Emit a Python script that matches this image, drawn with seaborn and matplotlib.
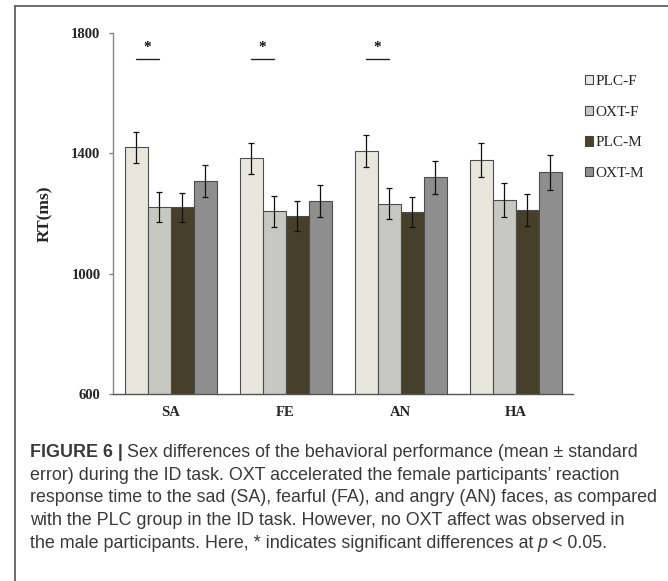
import numpy as np
import pandas as pd
import matplotlib
matplotlib.use("Agg")
import matplotlib.pyplot as plt
from matplotlib.patches import Patch
from matplotlib.lines import Line2D
import seaborn as sns

# ---- data ----
emotions = ["SA", "FE", "AN", "HA"]
groups = ["PLC-F", "OXT-F", "PLC-M", "OXT-M"]
plc_f = [1420, 1383, 1408, 1379]
oxt_f = [1222, 1207, 1233, 1244]
plc_m = [1220, 1192, 1204, 1211]
oxt_m = [1308, 1242, 1320, 1337]
plc_f_se = [52, 53, 52, 57]
oxt_f_se = [50, 52, 51, 56]
plc_m_se = [49, 50, 50, 53]
oxt_m_se = [53, 54, 55, 59]
sig_emotions = ["SA", "FE", "AN"]
sig_level = 1712
yticks = [600, 1000, 1400, 1800]

means = {"PLC-F": plc_f, "OXT-F": oxt_f, "PLC-M": plc_m, "OXT-M": oxt_m}
ses = {"PLC-F": plc_f_se, "OXT-F": oxt_f_se, "PLC-M": plc_m_se, "OXT-M": oxt_m_se}
colors = {"PLC-F": "#E9E8DC", "OXT-F": "#C9C9C1", "PLC-M": "#4A4327", "OXT-M": "#8E8E8E"}

rows = []
for g in groups:
    for e, v, s in zip(emotions, means[g], ses[g]):
        rows.append({"emotion": e, "group": g, "rt": v, "se": s})
df = pd.DataFrame(rows)

sns.set_style("white")
plt.rcParams["font.family"] = ["Liberation Serif", "DejaVu Serif"]

W, H = 668, 581
fig = plt.figure(figsize=(W / 100, H / 100), dpi=100)
ax = fig.add_axes([113 / W, 1 - 394 / H, 460 / W, 361 / H])

sns.barplot(data=df, x="emotion", y="rt", hue="group", order=emotions,
            hue_order=groups, palette=colors, errorbar=None, width=0.8,
            edgecolor="#4d4d4d", linewidth=0.8, ax=ax, legend=False)

# error bars
for gi, g in enumerate(groups):
    cont = ax.containers[gi]
    bars = sorted(cont.patches, key=lambda p: p.get_x())
    xs = [b.get_x() + b.get_width() / 2 for b in bars]
    ax.errorbar(xs, means[g], yerr=ses[g], fmt="none", ecolor="#111111",
                elinewidth=0.9, capsize=2.2, capthick=0.9, zorder=5)

# significance markers
bar_w = 0.8 / len(groups)
for e in sig_emotions:
    ci = emotions.index(e)
    x1 = ci - 0.4 + bar_w * 0.5
    x2 = ci - 0.4 + bar_w * 1.5
    ax.plot([x1, x2], [sig_level, sig_level], color="#222222", lw=1.0)
    ax.text((x1 + x2) / 2, sig_level + 18, "*", ha="center", va="bottom",
            fontsize=11, fontweight="bold", color="#111111")

ax.set_ylim(600, 1800)
ax.set_xlim(-0.5, len(emotions) - 0.5)
ax.set_yticks(yticks)
ax.set_yticklabels([str(t) for t in yticks], fontweight="bold", fontsize=10.5)
ax.set_xticks(range(len(emotions)))
ax.set_xticklabels(emotions, fontweight="bold", fontsize=10.5)
ax.set_xticks(np.arange(-0.5, len(emotions)), minor=True)
ax.tick_params(axis="x", which="major", length=0, pad=9)
ax.tick_params(axis="x", which="minor", length=3, width=0.9, color="#555555", direction="out")
ax.tick_params(axis="y", which="major", length=3, width=0.9, color="#777777",
               direction="out", pad=6, left=True)
ax.set_xlabel("")
ax.set_ylabel("RT(ms)", fontweight="bold", fontsize=12.5)
ax.yaxis.set_label_coords(-0.148, 0.5)
ax.yaxis.label.set_verticalalignment("center")
for s in ["top", "right"]:
    ax.spines[s].set_visible(False)
ax.spines["left"].set_color("#888888")
ax.spines["bottom"].set_color("#555555")
ax.spines["left"].set_linewidth(1.0)
ax.spines["bottom"].set_linewidth(1.0)

# legend
handles = [Patch(facecolor=colors[g], edgecolor="#444444", linewidth=0.8) for g in groups]
fig.legend(handles, groups, loc="upper left", bbox_to_anchor=(585 / W, 1 - 75 / H),
           frameon=False, handlelength=0.55, handleheight=0.55, handletextpad=0.12,
           labelspacing=1.16, borderpad=0, borderaxespad=0,
           prop={"family": "Liberation Serif", "size": 11})

# outer box (left + top border)
fig.add_artist(Line2D([15 / W, 15 / W], [0, 1 - 6 / H], transform=fig.transFigure,
                      color="#555555", lw=1.2))
fig.add_artist(Line2D([15 / W, 1], [1 - 6 / H, 1 - 6 / H], transform=fig.transFigure,
                      color="#555555", lw=1.2))

# caption
cap_font = ["Liberation Sans Narrow", "Liberation Sans", "DejaVu Sans"]
cap_size = 12.85
renderer = fig.canvas.get_renderer()
space_px = cap_size * 100 / 72 * 0.23

def draw_line(x_px, base_px, segs):
    x = x_px
    for txt, kw in segs:
        if txt == " ":
            x += space_px
            continue
        t = fig.text(x / W, 1 - base_px / H, txt, ha="left", va="baseline",
                     family=cap_font, fontsize=cap_size, color="#3a3a3a", **kw)
        bb = t.get_window_extent(renderer)
        x = bb.x1

caption = [
    [("FIGURE 6 |", {"fontweight": "bold"}), (" ", {}),
     ("Sex differences of the behavioral performance (mean \u00b1 standard", {})],
    [("error) during the ID task. OXT accelerated the female participants\u2019 reaction", {})],
    [("response time to the sad (SA), fearful (FA), and angry (AN) faces, as compared", {})],
    [("with the PLC group in the ID task. However, no OXT affect was observed in", {})],
    [("the male participants. Here, * indicates significant differences at", {}), (" ", {}),
     ("p", {"fontstyle": "italic"}), (" ", {}), ("< 0.05.", {})],
]
baselines = [457, 480, 502.5, 525, 548]
for segs, b in zip(caption, baselines):
    draw_line(30, b, segs)

fig.savefig("out.png", dpi=100)
